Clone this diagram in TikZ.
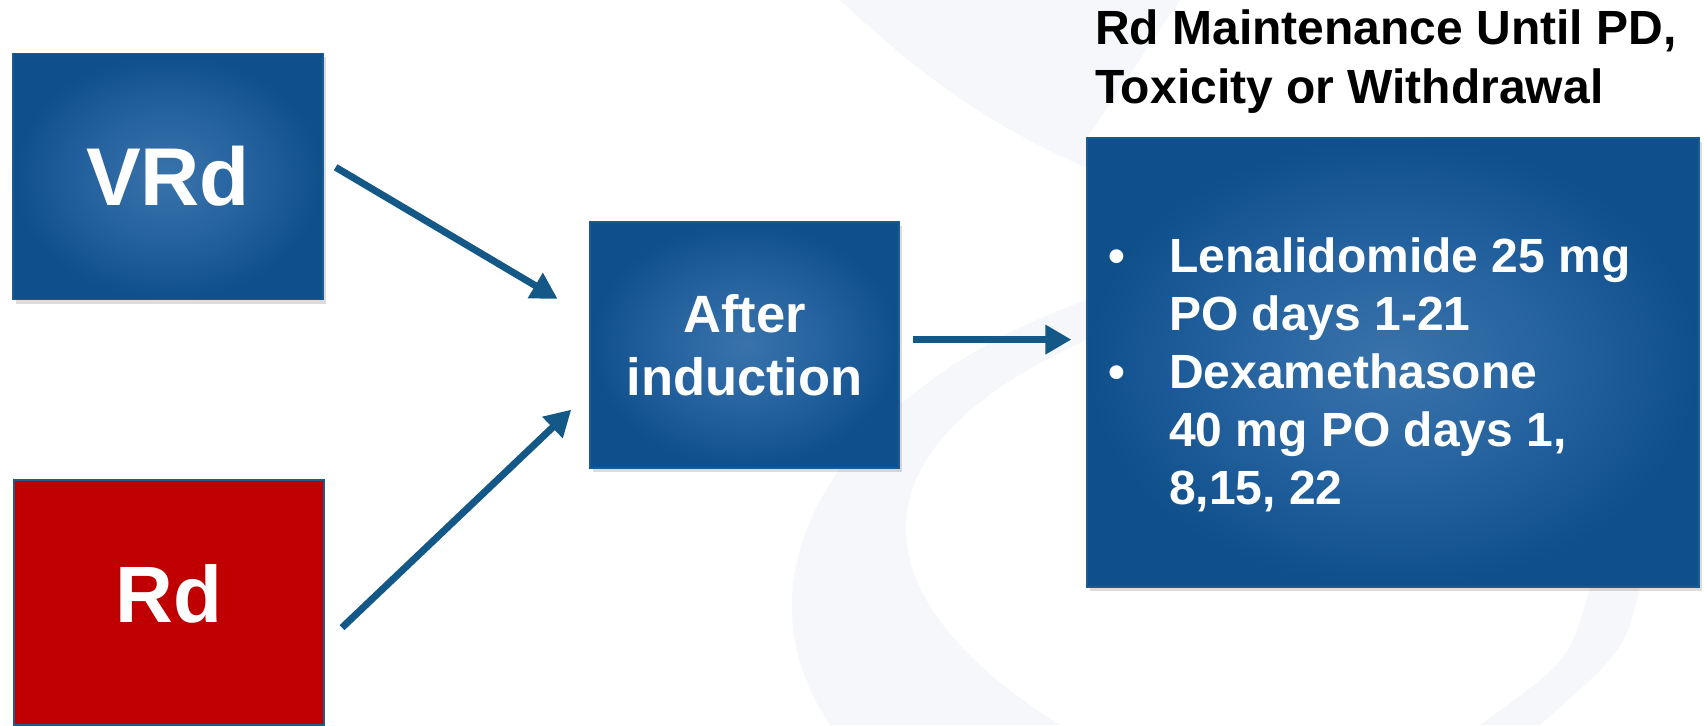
\documentclass[tikz,border=0pt]{standalone}
\usepackage{fontspec}
\setmainfont{Liberation Sans}
\usetikzlibrary{arrows.meta,shadows}

\definecolor{boxlight}{HTML}{3A73AB}
\definecolor{boxmid}{HTML}{23619E}
\definecolor{boxdark}{HTML}{0F4F8A}
\definecolor{boxedge}{HTML}{1B5A92}
\definecolor{drugred}{HTML}{C00000}
\definecolor{arrowblue}{HTML}{145887}
\definecolor{washgray}{HTML}{F6F7FA}

% soft glow in the middle of the blue boxes
\pgfdeclareradialshading{boxglow}{\pgfpoint{0bp}{0bp}}{color(0bp)=(boxlight); color(14bp)=(boxmid); color(25bp)=(boxdark); color(50bp)=(boxdark)}

\begin{document}
\begin{tikzpicture}[x=1pt,y=-1pt,
	bluebox/.style={draw=boxedge,line width=1.2pt,shading=boxglow,text=white,inner sep=0pt,
		drop shadow={opacity=.28,shadow xshift=3pt,shadow yshift=-4pt}},
	redbox/.style={draw=boxedge,line width=1.2pt,fill=drugred,text=white,inner sep=0pt},
	flow/.style={draw=arrowblue,line width=7pt,-{Triangle[length=26pt,width=28pt]}},
	wash/.style={fill=washgray}]
			\useasboundingbox (0,0) rectangle (1704,725);

			% faint swoosh in the background
			\fill[wash] (840,0) .. controls (930,85) and (1000,130) .. (1087,168) -- (1087,138) -- (1180,0) -- cycle;
			\fill[wash] (1087,300) .. controls (860,380) and (720,560) .. (830,725) -- (1060,725) .. controls (860,600) and (840,450) .. (1087,340) -- cycle;
			\fill[wash] (1640,587) .. controls (1625,650) .. (1540,725) -- (1480,725) .. controls (1570,660) .. (1590,587) -- cycle;

			\node[bluebox,minimum width=310pt,minimum height=246pt,font=\fontsize{82}{98}\selectfont\bfseries] at (168,176.5) (vrd) {VRd};
			\node[redbox,minimum width=310pt,minimum height=245pt,text depth=18pt,font=\fontsize{80}{96}\selectfont\bfseries] at (169,602.5) (rd) {Rd};

			\node[bluebox,minimum width=309pt,minimum height=246pt,align=center,font=\fontsize{52.5}{63}\selectfont\bfseries] at (744.5,345) (after) {After\\induction};

			\node[anchor=base west,inner sep=0pt,font=\fontsize{48}{57.6}\selectfont\bfseries] at (1095,45) (head1) {Rd Maintenance Until PD,};
			\node[anchor=base west,inner sep=0pt,font=\fontsize{48}{57.6}\selectfont\bfseries] at (1095,103) (head2) {Toxicity or Withdrawal};

			\node[bluebox,minimum width=612pt,minimum height=449pt] at (1393,362.5) (maint) {};
			\node[anchor=base west,inner sep=0pt,text=white,font=\fontsize{48}{57.6}\selectfont\bfseries] at (1108,272) (dot1) {\textbullet};
			\node[anchor=base west,inner sep=0pt,text=white,font=\fontsize{48}{57.6}\selectfont\bfseries] at (1169,272) (len1) {Lenalidomide 25 mg};
			\node[anchor=base west,inner sep=0pt,text=white,font=\fontsize{48}{57.6}\selectfont\bfseries] at (1169,330) (len2) {PO days 1-21};
			\node[anchor=base west,inner sep=0pt,text=white,font=\fontsize{48}{57.6}\selectfont\bfseries] at (1108,388) (dot2) {\textbullet};
			\node[anchor=base west,inner sep=0pt,text=white,font=\fontsize{48}{57.6}\selectfont\bfseries] at (1169,388) (dex1) {Dexamethasone};
			\node[anchor=base west,inner sep=0pt,text=white,font=\fontsize{48}{57.6}\selectfont\bfseries] at (1169,446) (dex2) {40 mg PO days 1,};
			\node[anchor=base west,inner sep=0pt,text=white,font=\fontsize{48}{57.6}\selectfont\bfseries] at (1169,504) (dex3) {8,15, 22};

			\draw[flow,shorten <=14pt,shorten >=37pt] (vrd.6) -- (after.170);
			\draw[flow,shorten <=24pt,shorten >=25pt] (rd.-15) -- (after.197);
			\draw[flow,shorten <=13pt,shorten >=15pt] (after.2) -- (after.2 -| maint.west);
		\end{tikzpicture}
\end{document}
